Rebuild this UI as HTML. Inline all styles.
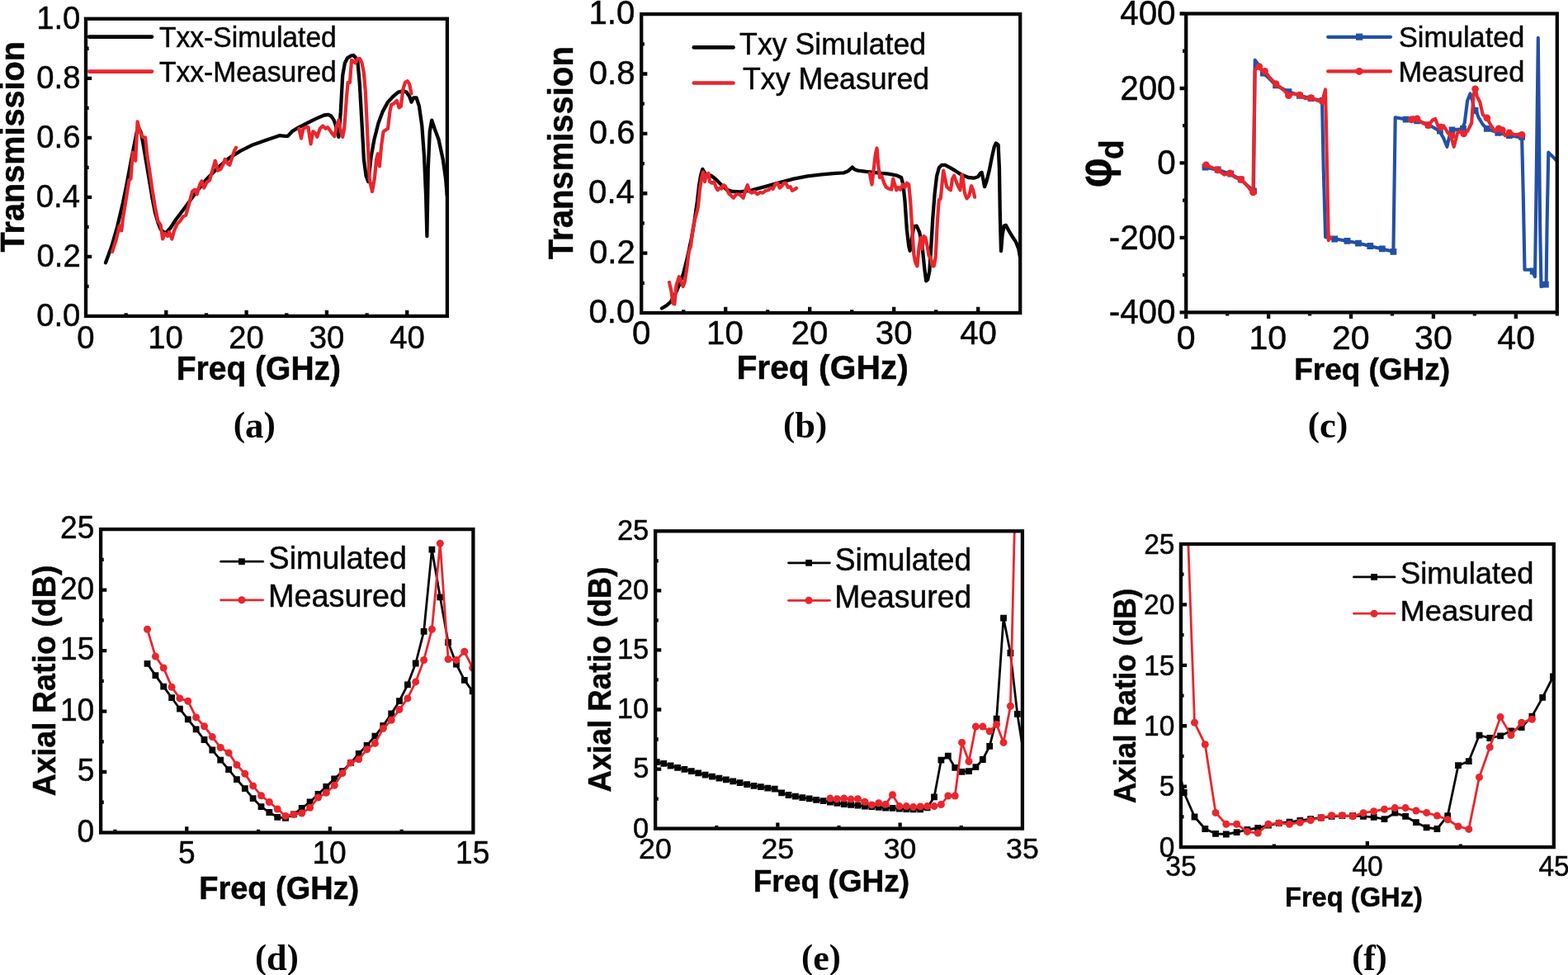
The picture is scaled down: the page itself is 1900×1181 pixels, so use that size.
<!DOCTYPE html>
<html lang="en">
<head>
<meta charset="utf-8">
<title>Transmission, phase difference and axial ratio</title>
<style>
html,body{margin:0;padding:0;background:#fff;}
body{width:1900px;height:1181px;overflow:hidden;}
svg{display:block;}
.ss{font-family:'Liberation Sans', 'DejaVu Sans', sans-serif;fill:#060606;}
.sf{font-family:'Liberation Serif', 'DejaVu Serif', serif;fill:#060606;}
.b{font-weight:bold;}
</style>
</head>
<body>
<svg width="1900" height="1181" viewBox="0 0 1900 1181">
<rect x="0" y="0" width="1900" height="1181" fill="#ffffff"/>
<clipPath id="ca"><rect x="104.00" y="22.75" width="437.90" height="360.15"/></clipPath>
<path d="M128.0 318.3L135.4 298.0L142.2 274.3L149.0 245.5L154.1 220.1L159.2 193.0L163.2 172.7L165.9 159.2L168.3 155.1L171.0 160.8L174.4 179.5L177.8 199.8L181.2 220.1L184.6 240.4L187.9 257.4L191.3 269.2L194.7 277.7L198.1 281.1L201.5 281.7L206.6 276.0L213.3 265.8L223.5 252.3L237.0 233.7L250.6 216.7L264.1 203.2L277.7 191.3L291.2 182.9L304.8 176.1L321.7 170.0L338.6 164.2L345.4 164.9L348.8 164.9L353.9 159.2L362.3 154.1L372.5 149.0L382.6 143.9L392.8 139.5L397.9 138.8L401.3 140.5L404.7 145.6L408.0 155.8L410.4 165.9L412.8 135.4L415.2 91.4L417.9 76.2L420.9 70.4L425.0 67.7L428.4 67.0L430.7 69.4L433.4 74.5L435.8 101.6L438.5 149.0L440.9 193.0L443.6 213.3L446.3 220.1L449.7 189.6L453.4 169.3L458.5 149.0L463.6 135.4L470.0 123.6L476.4 116.8L482.5 111.7L489.3 110.1L492.7 111.7L496.1 116.8L498.5 123.6L501.2 118.5L504.6 118.5L507.9 128.7L511.3 152.4L514.0 189.6L516.1 237.0L517.4 286.1L518.8 203.2L520.8 159.2L523.2 145.6L526.6 155.8L531.6 169.3L536.7 193.0L540.1 216.7L541.8 237.0" fill="none" stroke="#060606" stroke-width="4.3" stroke-linejoin="round" stroke-linecap="round" clip-path="url(#ca)"/>
<path d="M136.1 304.8L140.5 291.2L144.9 273.6L147.3 279.4L149.0 264.1L152.4 243.8L156.4 218.4L158.5 216.7L160.8 184.6L164.2 194.7L166.6 147.3L169.3 159.2L172.7 165.9L176.1 166.6L178.5 189.6L181.2 206.6L184.6 230.3L187.9 250.6L191.3 267.5L194.7 272.6L197.1 289.5L199.8 282.8L203.2 286.1L204.9 281.1L208.3 289.5L211.6 277.7L215.0 270.9L218.4 267.5L221.8 262.4L225.2 260.7L228.6 248.9L233.0 232.0L236.0 229.6L238.7 235.3L242.1 223.5L244.5 219.4L247.2 227.6L250.6 220.8L254.0 218.4L257.4 206.6L260.7 194.7L264.1 206.6L267.5 204.9L270.9 198.1L272.6 193.0L276.0 198.1L278.3 199.8L281.1 191.3L283.8 182.9L286.1 178.8" fill="none" stroke="#e9262d" stroke-width="4.2" stroke-linejoin="round" stroke-linecap="round" clip-path="url(#ca)"/>
<path d="M362.3 155.8L365.0 167.6L367.4 155.8L370.8 154.1L373.5 154.1L376.6 174.4L379.3 159.2L382.6 161.9L384.3 165.9L387.7 155.8L391.1 152.4L394.5 155.8L396.9 154.1L399.6 157.5L403.0 162.5L405.3 165.2L408.0 152.4L410.4 145.6L413.1 159.2L415.2 165.9L417.2 155.8L419.9 118.5L421.6 99.9L424.0 99.9L426.0 72.8L428.4 74.5L430.7 76.2L433.4 71.1L436.1 71.1L438.5 76.2L440.9 88.0L442.9 111.7L445.3 162.5L447.7 216.7L451.0 232.0L453.8 216.7L456.1 193.0L457.8 186.2L459.9 201.5L462.2 176.1L464.6 159.2L467.3 157.5L470.0 155.8L472.4 135.4L474.1 127.0L477.5 125.3L480.8 121.9L483.6 130.4L485.9 128.7L488.3 108.4L491.0 99.9L493.7 98.2L496.1 101.6L498.5 113.4" fill="none" stroke="#e9262d" stroke-width="4.2" stroke-linejoin="round" stroke-linecap="round" clip-path="url(#ca)"/>
<rect x="104.00" y="22.75" width="437.90" height="360.15" fill="none" stroke="#060606" stroke-width="4.3"/>
<path d="M201.31 381.05V375.75M298.62 381.05V375.75M395.93 381.05V375.75M493.24 381.05V375.75M152.66 381.05V379.25M249.97 381.05V379.25M347.28 381.05V379.25M444.59 381.05V379.25" stroke="#060606" stroke-width="4.3" fill="none"/>
<path d="M105.85 310.87H111.15M105.85 238.84H111.15M105.85 166.81H111.15M105.85 94.78H111.15M105.85 346.88H107.65M105.85 274.86H107.65M105.85 202.82H107.65M105.85 130.80H107.65M105.85 58.76H107.65" stroke="#060606" stroke-width="4.3" fill="none"/>
<text class="ss" transform="translate(93.36 422.20) scale(0.9650 1)" font-size="39.6" stroke="#060606" stroke-width="0.5">0</text>
<text class="ss" transform="translate(179.34 422.20) scale(0.9650 1)" font-size="39.6" stroke="#060606" stroke-width="0.5">10</text>
<text class="ss" transform="translate(277.16 422.20) scale(0.9650 1)" font-size="39.6" stroke="#060606" stroke-width="0.5">20</text>
<text class="ss" transform="translate(374.66 422.20) scale(0.9650 1)" font-size="39.6" stroke="#060606" stroke-width="0.5">30</text>
<text class="ss" transform="translate(472.29 422.20) scale(0.9650 1)" font-size="39.6" stroke="#060606" stroke-width="0.5">40</text>
<text class="ss" transform="translate(44.16 395.10) scale(0.9650 1)" font-size="39.6" stroke="#060606" stroke-width="0.5">0.0</text>
<text class="ss" transform="translate(44.54 323.07) scale(0.9650 1)" font-size="39.6" stroke="#060606" stroke-width="0.5">0.2</text>
<text class="ss" transform="translate(43.78 251.04) scale(0.9650 1)" font-size="39.6" stroke="#060606" stroke-width="0.5">0.4</text>
<text class="ss" transform="translate(44.29 179.01) scale(0.9650 1)" font-size="39.6" stroke="#060606" stroke-width="0.5">0.6</text>
<text class="ss" transform="translate(44.29 106.98) scale(0.9650 1)" font-size="39.6" stroke="#060606" stroke-width="0.5">0.8</text>
<text class="ss" transform="translate(44.16 34.95) scale(0.9650 1)" font-size="39.6" stroke="#060606" stroke-width="0.5">1.0</text>
<text class="ss b" transform="translate(29.00 305.45) rotate(-90) scale(0.9585 1)" font-size="41.33" stroke="#060606" stroke-width="0.5">Transmission</text>
<text class="ss b" transform="translate(213.75 460.40) scale(0.9704 1)" font-size="40.2" stroke="#060606" stroke-width="0.5">Freq (GHz)</text>
<text class="sf b" transform="translate(282.63 529.10) scale(1.0150 1)" font-size="42.5"><tspan dy="-1.0">(</tspan><tspan dy="1.6" font-size="44.3">a</tspan><tspan dy="-1.6">)</tspan></text>
<path d="M108.0 44.6L184.0 44.6" fill="none" stroke="#060606" stroke-width="4.7" stroke-linejoin="round" stroke-linecap="round"/>
<path d="M108.0 86.6L184.0 86.6" fill="none" stroke="#e9262d" stroke-width="4.7" stroke-linejoin="round" stroke-linecap="round"/>
<text class="ss" transform="translate(192.97 56.70) scale(0.9448 1)" font-size="35.58" stroke="#060606" stroke-width="0.5">Txx-Simulated</text>
<text class="ss" transform="translate(192.97 98.60) scale(0.9448 1)" font-size="35.58" stroke="#060606" stroke-width="0.5">Txx-Measured</text>
<clipPath id="cb"><rect x="777.20" y="17.10" width="459.00" height="361.90"/></clipPath>
<path d="M801.9 373.5L807.6 370.1L812.7 365.7L817.8 357.2L822.9 345.4L827.9 331.9L833.0 311.5L838.1 287.8L841.5 267.5L844.9 243.8L847.2 223.5L849.3 211.6L851.3 204.9L853.3 208.3L856.7 212.7L861.8 212.7L866.9 216.7L873.7 223.5L880.4 229.6L887.2 232.0L897.4 232.3L910.9 230.3L927.8 225.9L944.8 221.1L961.7 216.7L978.6 213.3L995.6 211.3L1012.5 209.9L1022.6 209.3L1027.7 207.2L1031.1 204.2L1032.8 202.5L1035.5 205.2L1039.6 206.6L1049.7 207.9L1063.3 209.3L1076.8 210.6L1087.0 212.7L1092.1 215.0L1094.4 223.5L1096.5 243.8L1098.8 277.7L1101.2 298.0L1102.6 303.7L1104.6 291.2L1107.3 274.3L1110.7 273.6L1114.1 281.1L1117.5 298.0L1120.2 325.1L1122.2 340.3L1124.2 338.6L1126.3 328.5L1128.3 298.0L1130.3 264.1L1132.7 233.7L1135.1 213.3L1137.8 203.2L1141.2 199.8L1145.2 199.8L1151.3 203.2L1158.1 207.2L1164.9 211.6L1173.3 215.0L1180.1 215.7L1185.2 214.0L1187.9 209.9L1189.6 208.9L1191.3 216.7L1193.0 226.2L1195.3 220.1L1198.7 206.6L1202.1 189.6L1204.8 177.8L1206.9 173.4L1209.6 175.4L1210.9 203.2L1211.9 264.1L1213.0 304.1L1214.6 284.4L1216.7 273.6L1219.0 272.9L1222.4 279.4L1227.5 287.8L1230.9 292.9L1234.3 301.4L1236.0 311.5" fill="none" stroke="#060606" stroke-width="4.3" stroke-linejoin="round" stroke-linecap="round" clip-path="url(#cb)"/>
<path d="M811.0 342.0L813.4 352.2L815.4 367.4L817.4 368.4L819.5 345.4L822.9 335.2L825.6 342.0L827.6 347.1L829.6 342.0L832.3 325.1L834.7 304.8L837.1 298.0L839.1 281.1L841.5 267.5L843.9 259.0L845.9 250.6L847.9 230.3L849.9 216.7L852.0 208.3L854.0 220.1L856.0 211.6L858.4 209.9L860.1 220.1L862.8 221.8L865.2 220.1L867.6 226.9L869.6 230.3L872.0 227.6L874.3 228.6L876.4 224.2L878.7 225.2L881.1 230.3L883.1 234.3L885.5 236.4L888.9 239.7L892.3 235.3L895.7 235.3L898.0 237.0L900.7 239.7L903.4 230.3L905.8 224.2L908.2 232.0L910.9 233.7L914.3 232.0L917.7 235.3L921.1 233.0L924.4 233.7L927.8 230.9L931.2 230.3L933.9 227.6L936.6 228.9L939.7 222.8L942.1 221.8L944.8 227.6L947.5 225.2L949.8 221.8L952.2 221.8L954.9 226.9L957.6 226.2L960.0 230.9L962.4 229.6L965.1 227.9" fill="none" stroke="#e9262d" stroke-width="4.2" stroke-linejoin="round" stroke-linecap="round" clip-path="url(#cb)"/>
<path d="M1053.8 209.9L1056.5 223.5L1058.9 203.2L1060.9 186.2L1062.6 179.5L1064.3 199.8L1066.0 215.0L1068.4 213.3L1070.7 220.1L1073.4 226.2L1076.8 228.6L1080.2 229.6L1082.2 216.7L1084.3 223.5L1086.3 230.3L1088.7 226.9L1091.0 229.6L1093.8 223.5L1096.5 226.9L1098.8 221.8L1101.2 223.5L1103.2 243.8L1105.3 277.7L1107.3 308.1L1109.3 318.3L1111.4 322.4L1113.4 301.4L1115.4 287.8L1117.5 301.4L1119.5 286.1L1121.5 287.8L1123.6 298.0L1125.6 309.8L1127.6 311.5L1129.7 321.7L1131.7 322.4L1133.7 311.5L1135.7 270.9L1137.8 242.1L1139.8 240.4L1141.8 220.1L1143.2 206.6L1145.2 216.7L1147.3 226.2L1149.6 228.6L1152.0 230.3L1154.0 216.7L1156.1 212.7L1158.1 218.4L1160.8 225.2L1163.5 230.3L1165.5 211.6L1166.9 216.7L1168.9 233.7L1171.6 240.4L1174.3 237.0L1177.1 225.2L1179.1 230.3L1181.1 238.7" fill="none" stroke="#e9262d" stroke-width="4.2" stroke-linejoin="round" stroke-linecap="round" clip-path="url(#cb)"/>
<rect x="777.20" y="17.10" width="459.00" height="361.90" fill="none" stroke="#060606" stroke-width="4.3"/>
<path d="M879.20 377.15V371.85M981.20 377.15V371.85M1083.20 377.15V371.85M1185.20 377.15V371.85M828.20 377.15V375.35M930.20 377.15V375.35M1032.20 377.15V375.35M1134.20 377.15V375.35" stroke="#060606" stroke-width="4.3" fill="none"/>
<path d="M779.05 306.62H784.35M779.05 234.24H784.35M779.05 161.86H784.35M779.05 89.48H784.35M779.05 342.81H780.85M779.05 270.43H780.85M779.05 198.05H780.85M779.05 125.67H780.85M779.05 53.29H780.85" stroke="#060606" stroke-width="4.3" fill="none"/>
<text class="ss" transform="translate(766.02 417.35) scale(0.9970 1)" font-size="40.3" stroke="#060606" stroke-width="0.5">0</text>
<text class="ss" transform="translate(856.10 417.35) scale(0.9970 1)" font-size="40.3" stroke="#060606" stroke-width="0.5">10</text>
<text class="ss" transform="translate(958.63 417.35) scale(0.9970 1)" font-size="40.3" stroke="#060606" stroke-width="0.5">20</text>
<text class="ss" transform="translate(1060.83 417.35) scale(0.9970 1)" font-size="40.3" stroke="#060606" stroke-width="0.5">30</text>
<text class="ss" transform="translate(1163.17 417.35) scale(0.9970 1)" font-size="40.3" stroke="#060606" stroke-width="0.5">40</text>
<text class="ss" transform="translate(713.51 391.20) scale(0.9970 1)" font-size="40.3" stroke="#060606" stroke-width="0.5">0.0</text>
<text class="ss" transform="translate(713.91 318.82) scale(0.9970 1)" font-size="40.3" stroke="#060606" stroke-width="0.5">0.2</text>
<text class="ss" transform="translate(713.11 246.44) scale(0.9970 1)" font-size="40.3" stroke="#060606" stroke-width="0.5">0.4</text>
<text class="ss" transform="translate(713.64 174.06) scale(0.9970 1)" font-size="40.3" stroke="#060606" stroke-width="0.5">0.6</text>
<text class="ss" transform="translate(713.64 101.68) scale(0.9970 1)" font-size="40.3" stroke="#060606" stroke-width="0.5">0.8</text>
<text class="ss" transform="translate(713.51 29.30) scale(0.9970 1)" font-size="40.3" stroke="#060606" stroke-width="0.5">1.0</text>
<text class="ss b" transform="translate(694.20 314.15) rotate(-90) scale(0.9554 1)" font-size="41.9" stroke="#060606" stroke-width="0.5">Transmission</text>
<text class="ss b" transform="translate(892.43 458.90) scale(1.0002 1)" font-size="40.77" stroke="#060606" stroke-width="0.5">Freq (GHz)</text>
<text class="sf b" transform="translate(949.05 529.10) scale(1.0047 1)" font-size="42.5"><tspan dy="-1.0">(</tspan><tspan dy="1.6" font-size="44.3">b</tspan><tspan dy="-1.6">)</tspan></text>
<path d="M840.8 57.4L888.5 57.4" fill="none" stroke="#060606" stroke-width="4.7" stroke-linejoin="round" stroke-linecap="round"/>
<path d="M840.8 100.5L888.5 100.5" fill="none" stroke="#e9262d" stroke-width="4.7" stroke-linejoin="round" stroke-linecap="round"/>
<text class="ss" transform="translate(896.12 65.80) scale(0.9864 1)" font-size="36.16" stroke="#060606" stroke-width="0.5">Txy Simulated</text>
<text class="ss" transform="translate(900.02 108.00) scale(0.9838 1)" font-size="36.3" stroke="#060606" stroke-width="0.5">Txy Measured</text>
<clipPath id="cc"><rect x="1437.20" y="16.50" width="449.60" height="361.90"/></clipPath>
<path d="M1458.8 202.5L1476.7 205.9L1490.3 210.6L1503.8 217.4L1514.0 226.9L1519.0 230.9L1520.7 72.8L1523.4 76.2L1527.5 83.0L1530.9 88.7L1537.7 94.8L1546.1 103.3L1561.4 111.1L1574.9 115.8L1588.5 119.2L1602.0 121.9L1603.7 203.2L1606.1 287.2L1618.9 289.5L1632.5 291.9L1646.0 294.6L1659.6 298.0L1674.8 301.4L1688.4 304.8L1690.7 142.2L1703.6 144.6L1717.1 146.3L1730.7 150.7L1744.2 158.5L1749.3 167.6L1753.4 177.8L1756.1 165.9L1759.5 157.5L1771.3 156.4L1774.7 149.0L1778.1 121.9L1781.5 113.4L1784.2 121.9L1786.6 135.4L1788.3 133.8L1791.6 142.2L1796.7 150.7L1801.8 155.8L1815.3 160.8L1828.9 164.2L1844.1 166.6L1845.8 237.0L1847.5 326.8L1856.0 326.8L1860.0 335.2L1861.4 237.0L1863.8 45.7L1866.1 270.9L1867.5 347.1L1873.6 344.7L1874.6 270.9L1876.3 184.6L1881.4 189.6L1886.5 194.7" fill="none" stroke="#2350a6" stroke-width="4.1" stroke-linejoin="round" stroke-linecap="round" clip-path="url(#cc)"/>
<path d="M1456.6 198.6h7.8v7.8h-7.8zM1471.8 201.6h7.8v7.8h-7.8zM1487.4 206.7h7.8v7.8h-7.8zM1499.9 213.5h7.8v7.8h-7.8zM1515.1 227.4h7.8v7.8h-7.8zM1527.0 84.8h7.8v7.8h-7.8zM1542.2 99.4h7.8v7.8h-7.8zM1557.5 107.2h7.8v7.8h-7.8zM1571.0 111.9h7.8v7.8h-7.8zM1584.6 115.3h7.8v7.8h-7.8zM1598.8 118.0h7.8v7.8h-7.8zM1613.3 285.6h7.8v7.8h-7.8zM1628.6 288.0h7.8v7.8h-7.8zM1642.1 290.7h7.8v7.8h-7.8zM1656.4 294.1h7.8v7.8h-7.8zM1670.9 297.5h7.8v7.8h-7.8zM1684.5 300.9h7.8v7.8h-7.8zM1699.7 140.7h7.8v7.8h-7.8zM1713.2 142.4h7.8v7.8h-7.8zM1726.8 147.5h7.8v7.8h-7.8zM1741.0 154.6h7.8v7.8h-7.8zM1755.6 153.6h7.8v7.8h-7.8zM1769.1 151.9h7.8v7.8h-7.8zM1783.7 129.9h7.8v7.8h-7.8zM1797.9 151.9h7.8v7.8h-7.8zM1811.4 156.9h7.8v7.8h-7.8zM1825.0 160.3h7.8v7.8h-7.8zM1840.2 162.0h7.8v7.8h-7.8zM1853.8 324.6h7.8v7.8h-7.8zM1869.0 340.8h7.8v7.8h-7.8z" fill="#2350a6" clip-path="url(#cc)"/>
<path d="M1461.5 199.8L1476.7 206.6L1483.5 211.6L1490.3 209.9L1497.0 215.0L1503.8 217.4L1512.3 226.2L1518.4 233.7L1520.7 84.7L1525.8 79.6L1529.2 86.3L1532.6 86.3L1537.7 93.1L1546.1 101.6L1554.6 108.4L1561.4 115.1L1568.1 113.4L1574.9 115.1L1581.7 119.2L1588.5 118.5L1595.2 121.2L1602.0 123.6L1606.1 108.4L1608.1 203.2L1609.8 291.2L1612.2 287.2" fill="none" stroke="#e9262d" stroke-width="4.1" stroke-linejoin="round" stroke-linecap="round" clip-path="url(#cc)"/>
<path d="M1708.7 145.6L1712.1 142.2L1717.1 143.9L1723.9 149.0L1730.7 151.7L1735.8 145.6L1739.2 143.9L1742.5 152.4L1745.9 154.1L1749.3 152.4L1754.4 160.8L1757.8 164.2L1761.8 177.8L1766.2 160.8L1769.6 159.2L1773.7 161.9L1778.1 159.2L1783.2 149.0L1785.5 115.1L1787.6 107.7L1789.9 116.8L1793.3 123.6L1796.7 138.8L1801.8 142.9L1806.9 152.4L1812.0 159.2L1816.0 155.8L1820.4 157.5L1823.8 164.2L1828.9 160.8L1835.7 163.2L1840.7 162.5L1845.8 163.6" fill="none" stroke="#e9262d" stroke-width="4.1" stroke-linejoin="round" stroke-linecap="round" clip-path="url(#cc)"/>
<g fill="#e9262d" clip-path="url(#cc)"><circle cx="1461.5" cy="199.8" r="4.3"/><circle cx="1475.7" cy="205.9" r="4.3"/><circle cx="1490.3" cy="209.9" r="4.3"/><circle cx="1503.8" cy="217.4" r="4.3"/><circle cx="1518.4" cy="233.0" r="4.3"/><circle cx="1525.8" cy="80.6" r="4.3"/><circle cx="1532.6" cy="86.3" r="4.3"/><circle cx="1546.1" cy="101.6" r="4.3"/><circle cx="1561.4" cy="115.8" r="4.3"/><circle cx="1574.9" cy="115.1" r="4.3"/><circle cx="1588.5" cy="118.5" r="4.3"/><circle cx="1602.7" cy="122.6" r="4.3"/><circle cx="1710.4" cy="144.9" r="4.3"/><circle cx="1717.1" cy="143.9" r="4.3"/><circle cx="1730.7" cy="151.7" r="4.3"/><circle cx="1745.9" cy="154.1" r="4.3"/><circle cx="1759.5" cy="164.2" r="4.3"/><circle cx="1773.7" cy="161.9" r="4.3"/><circle cx="1787.6" cy="107.7" r="4.3"/><circle cx="1801.8" cy="142.9" r="4.3"/><circle cx="1816.0" cy="155.8" r="4.3"/><circle cx="1820.4" cy="157.5" r="4.3"/><circle cx="1828.9" cy="160.8" r="4.3"/><circle cx="1844.1" cy="163.2" r="4.3"/></g>
<rect x="1437.20" y="16.50" width="449.60" height="361.90" fill="none" stroke="#060606" stroke-width="4.3"/>
<path d="M1437.20 380.25V386.05M1537.11 380.25V386.05M1637.02 380.25V386.05M1736.93 380.25V386.05M1836.84 380.25V386.05M1487.16 380.25V382.55M1587.07 380.25V382.55M1686.98 380.25V382.55M1786.89 380.25V382.55M1886.80 380.25V382.55" stroke="#060606" stroke-width="4.3" fill="none"/>
<path d="M1435.35 378.40H1429.55M1435.35 287.92H1429.55M1435.35 197.45H1429.55M1435.35 106.98H1429.55M1435.35 16.50H1429.55M1435.35 333.16H1433.05M1435.35 242.69H1433.05M1435.35 152.21H1433.05M1435.35 61.74H1433.05" stroke="#060606" stroke-width="4.3" fill="none"/>
<text class="ss" transform="translate(1425.76 422.85) scale(0.9900 1)" font-size="41.5" stroke="#060606" stroke-width="0.5">0</text>
<text class="ss" transform="translate(1513.49 422.85) scale(0.9900 1)" font-size="41.5" stroke="#060606" stroke-width="0.5">10</text>
<text class="ss" transform="translate(1613.95 422.85) scale(0.9900 1)" font-size="41.5" stroke="#060606" stroke-width="0.5">20</text>
<text class="ss" transform="translate(1714.06 422.85) scale(0.9900 1)" font-size="41.5" stroke="#060606" stroke-width="0.5">30</text>
<text class="ss" transform="translate(1814.32 422.85) scale(0.9900 1)" font-size="41.5" stroke="#060606" stroke-width="0.5">40</text>
<text class="ss" transform="translate(1343.69 392.20) scale(0.9400 1)" font-size="43.0" stroke="#060606" stroke-width="0.5">-400</text>
<text class="ss" transform="translate(1343.69 301.72) scale(0.9400 1)" font-size="43.0" stroke="#060606" stroke-width="0.5">-200</text>
<text class="ss" transform="translate(1402.17 211.25) scale(0.9400 1)" font-size="43.0" stroke="#060606" stroke-width="0.5">0</text>
<text class="ss" transform="translate(1357.17 120.78) scale(0.9400 1)" font-size="43.0" stroke="#060606" stroke-width="0.5">200</text>
<text class="ss" transform="translate(1357.17 30.30) scale(0.9400 1)" font-size="43.0" stroke="#060606" stroke-width="0.5">400</text>
<text class="ss b" transform="translate(1346.20 227.30) rotate(-90) scale(0.8830 1)" font-size="56.9" stroke="#060606" stroke-width="0.5">&#966;</text>
<text class="ss b" transform="translate(1360.60 193.00) rotate(-90) scale(0.9680 1)" font-size="40.0" stroke="#060606" stroke-width="0.5">d</text>
<text class="ss b" transform="translate(1568.19 460.10) scale(1.0200 1)" font-size="36.24" stroke="#060606" stroke-width="0.5">Freq (GHz)</text>
<text class="sf b" transform="translate(1584.74 529.10) scale(1.0092 1)" font-size="42.5"><tspan dy="-1.0">(</tspan><tspan dy="1.6" font-size="44.3">c</tspan><tspan dy="-1.6">)</tspan></text>
<path d="M1609.2 44.8L1685.0 44.8" fill="none" stroke="#2350a6" stroke-width="4.2" stroke-linejoin="round" stroke-linecap="round"/>
<path d="M1643.0 40.6h8.2v8.2h-8.2z" fill="#2350a6"/>
<path d="M1609.2 86.4L1685.0 86.4" fill="none" stroke="#e9262d" stroke-width="4.2" stroke-linejoin="round" stroke-linecap="round"/>
<g fill="#e9262d"><circle cx="1647.1" cy="86.4" r="4.5"/></g>
<text class="ss" transform="translate(1694.95 56.50) scale(0.9862 1)" font-size="34.75" stroke="#060606" stroke-width="0.5">Simulated</text>
<text class="ss" transform="translate(1694.49 98.80) scale(0.9912 1)" font-size="34.68" stroke="#060606" stroke-width="0.5">Measured</text>
<clipPath id="cd"><rect x="120.60" y="639.60" width="454.30" height="370.40"/></clipPath>
<path d="M178.5 803.9L188.4 818.1L198.2 831.6L208.1 845.2L217.9 858.7L227.8 871.3L237.6 883.4L247.5 896.0L257.3 908.5L267.2 920.7L277.1 932.2L286.9 944.1L296.8 955.2L306.6 967.1L316.5 977.2L326.3 984.0L336.2 989.8L346.0 990.8L355.9 986.4L365.7 978.9L375.6 971.5L385.5 962.0L395.3 952.9L405.2 943.4L415.0 934.2L424.9 924.1L434.7 912.9L444.6 902.8L454.4 891.6L464.3 879.0L474.2 864.5L484.0 849.2L493.9 829.3L503.7 803.5L513.6 764.9L523.4 665.7L533.3 723.3L543.1 778.1L553.0 804.6L562.8 823.9L572.7 837.4" fill="none" stroke="#060606" stroke-width="2.8" stroke-linejoin="round" stroke-linecap="round" clip-path="url(#cd)"/>
<path d="M174.6 800.0h7.8v7.8h-7.8zM184.5 814.2h7.8v7.8h-7.8zM194.3 827.7h7.8v7.8h-7.8zM204.2 841.3h7.8v7.8h-7.8zM214.0 854.8h7.8v7.8h-7.8zM223.9 867.4h7.8v7.8h-7.8zM233.7 879.5h7.8v7.8h-7.8zM243.6 892.1h7.8v7.8h-7.8zM253.4 904.6h7.8v7.8h-7.8zM263.3 916.8h7.8v7.8h-7.8zM273.2 928.3h7.8v7.8h-7.8zM283.0 940.2h7.8v7.8h-7.8zM292.9 951.3h7.8v7.8h-7.8zM302.7 963.2h7.8v7.8h-7.8zM312.6 973.3h7.8v7.8h-7.8zM322.4 980.1h7.8v7.8h-7.8zM332.3 985.9h7.8v7.8h-7.8zM342.1 986.9h7.8v7.8h-7.8zM352.0 982.5h7.8v7.8h-7.8zM361.8 975.0h7.8v7.8h-7.8zM371.7 967.6h7.8v7.8h-7.8zM381.6 958.1h7.8v7.8h-7.8zM391.4 949.0h7.8v7.8h-7.8zM401.3 939.5h7.8v7.8h-7.8zM411.1 930.3h7.8v7.8h-7.8zM421.0 920.2h7.8v7.8h-7.8zM430.8 909.0h7.8v7.8h-7.8zM440.7 898.9h7.8v7.8h-7.8zM450.5 887.7h7.8v7.8h-7.8zM460.4 875.1h7.8v7.8h-7.8zM470.3 860.6h7.8v7.8h-7.8zM480.1 845.3h7.8v7.8h-7.8zM490.0 825.4h7.8v7.8h-7.8zM499.8 799.6h7.8v7.8h-7.8zM509.7 761.0h7.8v7.8h-7.8zM519.5 661.8h7.8v7.8h-7.8zM529.4 719.4h7.8v7.8h-7.8zM539.2 774.2h7.8v7.8h-7.8zM549.1 800.7h7.8v7.8h-7.8zM558.9 820.0h7.8v7.8h-7.8zM568.8 833.5h7.8v7.8h-7.8z" fill="#060606" clip-path="url(#cd)"/>
<path d="M178.5 762.2L188.4 795.1L198.2 809.0L208.1 832.3L217.9 845.9L227.8 849.2L237.6 868.9L247.5 879.7L257.3 892.6L267.2 905.5L277.1 911.9L286.9 926.5L296.8 937.3L306.6 951.9L316.5 963.7L326.3 971.5L336.2 980.0L346.0 988.4L355.9 986.4L365.7 985.0L375.6 978.3L385.5 966.1L395.3 960.3L405.2 951.2L415.0 936.6L424.9 924.1L434.7 919.7L444.6 907.8L454.4 900.4L464.3 882.4L474.2 872.3L484.0 859.4L493.9 845.9L503.7 825.9L513.6 799.5L523.4 762.2L533.3 658.3L543.1 798.5L553.0 799.5L562.8 789.3L572.7 809.0" fill="none" stroke="#e9262d" stroke-width="2.8" stroke-linejoin="round" stroke-linecap="round" clip-path="url(#cd)"/>
<g fill="#e9262d" clip-path="url(#cd)"><circle cx="178.5" cy="762.2" r="4.5"/><circle cx="188.4" cy="795.1" r="4.5"/><circle cx="198.2" cy="809.0" r="4.5"/><circle cx="208.1" cy="832.3" r="4.5"/><circle cx="217.9" cy="845.9" r="4.5"/><circle cx="227.8" cy="849.2" r="4.5"/><circle cx="237.6" cy="868.9" r="4.5"/><circle cx="247.5" cy="879.7" r="4.5"/><circle cx="257.3" cy="892.6" r="4.5"/><circle cx="267.2" cy="905.5" r="4.5"/><circle cx="277.1" cy="911.9" r="4.5"/><circle cx="286.9" cy="926.5" r="4.5"/><circle cx="296.8" cy="937.3" r="4.5"/><circle cx="306.6" cy="951.9" r="4.5"/><circle cx="316.5" cy="963.7" r="4.5"/><circle cx="326.3" cy="971.5" r="4.5"/><circle cx="336.2" cy="980.0" r="4.5"/><circle cx="346.0" cy="988.4" r="4.5"/><circle cx="355.9" cy="986.4" r="4.5"/><circle cx="365.7" cy="985.0" r="4.5"/><circle cx="375.6" cy="978.3" r="4.5"/><circle cx="385.5" cy="966.1" r="4.5"/><circle cx="395.3" cy="960.3" r="4.5"/><circle cx="405.2" cy="951.2" r="4.5"/><circle cx="415.0" cy="936.6" r="4.5"/><circle cx="424.9" cy="924.1" r="4.5"/><circle cx="434.7" cy="919.7" r="4.5"/><circle cx="444.6" cy="907.8" r="4.5"/><circle cx="454.4" cy="900.4" r="4.5"/><circle cx="464.3" cy="882.4" r="4.5"/><circle cx="474.2" cy="872.3" r="4.5"/><circle cx="484.0" cy="859.4" r="4.5"/><circle cx="493.9" cy="845.9" r="4.5"/><circle cx="503.7" cy="825.9" r="4.5"/><circle cx="513.6" cy="799.5" r="4.5"/><circle cx="523.4" cy="762.2" r="4.5"/><circle cx="533.3" cy="658.3" r="4.5"/><circle cx="543.1" cy="798.5" r="4.5"/><circle cx="553.0" cy="799.5" r="4.5"/><circle cx="562.8" cy="789.3" r="4.5"/><circle cx="572.7" cy="809.0" r="4.5"/></g>
<rect x="122.10" y="641.10" width="451.30" height="367.40" fill="none" stroke="#060606" stroke-width="4.3"/>
<path d="M226.25 1006.65V1001.35M399.82 1006.65V1001.35M139.46 1006.65V1004.85M313.03 1006.65V1004.85M486.61 1006.65V1004.85" stroke="#060606" stroke-width="4.3" fill="none"/>
<path d="M123.95 935.02H129.25M123.95 861.54H129.25M123.95 788.06H129.25M123.95 714.58H129.25M123.95 971.76H125.75M123.95 898.28H125.75M123.95 824.80H125.75M123.95 751.32H125.75M123.95 677.84H125.75" stroke="#060606" stroke-width="4.3" fill="none"/>
<text class="ss" transform="translate(215.97 1046.15) scale(0.9550 1)" font-size="38.9" stroke="#060606" stroke-width="0.5">5</text>
<text class="ss" transform="translate(378.46 1046.15) scale(0.9550 1)" font-size="38.9" stroke="#060606" stroke-width="0.5">10</text>
<text class="ss" transform="translate(552.10 1046.15) scale(0.9550 1)" font-size="38.9" stroke="#060606" stroke-width="0.5">15</text>
<text class="ss" transform="translate(93.56 1019.65) scale(0.9550 1)" font-size="38.9" stroke="#060606" stroke-width="0.5">0</text>
<text class="ss" transform="translate(93.68 946.17) scale(0.9550 1)" font-size="38.9" stroke="#060606" stroke-width="0.5">5</text>
<text class="ss" transform="translate(72.88 872.69) scale(0.9550 1)" font-size="38.9" stroke="#060606" stroke-width="0.5">10</text>
<text class="ss" transform="translate(73.00 799.21) scale(0.9550 1)" font-size="38.9" stroke="#060606" stroke-width="0.5">15</text>
<text class="ss" transform="translate(72.88 725.73) scale(0.9550 1)" font-size="38.9" stroke="#060606" stroke-width="0.5">20</text>
<text class="ss" transform="translate(73.00 652.25) scale(0.9550 1)" font-size="38.9" stroke="#060606" stroke-width="0.5">25</text>
<text class="ss b" transform="translate(67.20 964.25) rotate(-90) scale(0.9719 1)" font-size="38.65" stroke="#060606" stroke-width="0.5">Axial Ratio (dB)</text>
<text class="ss b" transform="translate(241.22 1088.80) scale(0.9934 1)" font-size="38.22" stroke="#060606" stroke-width="0.5">Freq (GHz)</text>
<text class="sf b" transform="translate(308.96 1173.90) scale(0.9986 1)" font-size="42.5"><tspan dy="-1.0">(</tspan><tspan dy="1.6" font-size="44.3">d</tspan><tspan dy="-1.6">)</tspan></text>
<path d="M267.6 680.2L318.6 680.2" fill="none" stroke="#060606" stroke-width="2.8" stroke-linejoin="round" stroke-linecap="round"/>
<path d="M289.0 676.3h7.8v7.8h-7.8z" fill="#060606"/>
<path d="M267.6 726.8L318.6 726.8" fill="none" stroke="#e9262d" stroke-width="2.8" stroke-linejoin="round" stroke-linecap="round"/>
<g fill="#e9262d"><circle cx="292.9" cy="726.8" r="4.5"/></g>
<text class="ss" transform="translate(325.59 688.90) scale(0.9774 1)" font-size="38.53" stroke="#060606" stroke-width="0.5">Simulated</text>
<text class="ss" transform="translate(325.00 735.20) scale(0.9631 1)" font-size="39.24" stroke="#060606" stroke-width="0.5">Measured</text>
<clipPath id="ce"><rect x="792.60" y="641.80" width="447.80" height="363.30"/></clipPath>
<path d="M795.8 923.1L804.2 924.8L812.6 927.5L821.0 929.8L829.4 931.9L837.8 934.2L846.2 936.3L854.6 938.6L863.0 940.7L871.4 942.7L879.8 944.4L888.2 946.4L896.6 948.1L905.1 950.2L913.5 951.9L921.9 953.2L930.3 954.6L938.7 955.6L947.1 960.3L955.5 963.0L963.9 964.7L972.3 966.1L980.7 967.4L989.1 968.8L997.5 970.1L1005.9 971.5L1014.3 972.8L1022.7 974.2L1031.1 974.9L1039.5 975.6L1047.9 976.6L1056.3 977.2L1064.7 977.9L1073.1 978.6L1081.5 978.9L1089.9 979.6L1098.3 980.0L1106.7 980.3L1115.2 980.3L1123.6 978.3L1132.0 965.4L1140.4 920.7L1148.8 915.6L1157.2 929.8L1165.6 934.9L1174.0 934.2L1182.4 929.2L1190.8 920.0L1199.2 903.8L1207.6 870.6L1216.0 748.7L1224.4 791.0L1232.8 864.8L1241.2 918.0L1249.6 965.4" fill="none" stroke="#060606" stroke-width="2.8" stroke-linejoin="round" stroke-linecap="round" clip-path="url(#ce)"/>
<path d="M791.9 919.2h7.8v7.8h-7.8zM800.3 920.9h7.8v7.8h-7.8zM808.7 923.6h7.8v7.8h-7.8zM817.1 925.9h7.8v7.8h-7.8zM825.5 928.0h7.8v7.8h-7.8zM833.9 930.3h7.8v7.8h-7.8zM842.3 932.4h7.8v7.8h-7.8zM850.7 934.7h7.8v7.8h-7.8zM859.1 936.8h7.8v7.8h-7.8zM867.5 938.8h7.8v7.8h-7.8zM875.9 940.5h7.8v7.8h-7.8zM884.3 942.5h7.8v7.8h-7.8zM892.7 944.2h7.8v7.8h-7.8zM901.2 946.3h7.8v7.8h-7.8zM909.6 948.0h7.8v7.8h-7.8zM918.0 949.3h7.8v7.8h-7.8zM926.4 950.7h7.8v7.8h-7.8zM934.8 951.7h7.8v7.8h-7.8zM943.2 956.4h7.8v7.8h-7.8zM951.6 959.1h7.8v7.8h-7.8zM960.0 960.8h7.8v7.8h-7.8zM968.4 962.2h7.8v7.8h-7.8zM976.8 963.5h7.8v7.8h-7.8zM985.2 964.9h7.8v7.8h-7.8zM993.6 966.2h7.8v7.8h-7.8zM1002.0 967.6h7.8v7.8h-7.8zM1010.4 968.9h7.8v7.8h-7.8zM1018.8 970.3h7.8v7.8h-7.8zM1027.2 971.0h7.8v7.8h-7.8zM1035.6 971.7h7.8v7.8h-7.8zM1044.0 972.7h7.8v7.8h-7.8zM1052.4 973.3h7.8v7.8h-7.8zM1060.8 974.0h7.8v7.8h-7.8zM1069.2 974.7h7.8v7.8h-7.8zM1077.6 975.0h7.8v7.8h-7.8zM1086.0 975.7h7.8v7.8h-7.8zM1094.4 976.1h7.8v7.8h-7.8zM1102.8 976.4h7.8v7.8h-7.8zM1111.3 976.4h7.8v7.8h-7.8zM1119.7 974.4h7.8v7.8h-7.8zM1128.1 961.5h7.8v7.8h-7.8zM1136.5 916.8h7.8v7.8h-7.8zM1144.9 911.7h7.8v7.8h-7.8zM1153.3 925.9h7.8v7.8h-7.8zM1161.7 931.0h7.8v7.8h-7.8zM1170.1 930.3h7.8v7.8h-7.8zM1178.5 925.3h7.8v7.8h-7.8zM1186.9 916.1h7.8v7.8h-7.8zM1195.3 899.9h7.8v7.8h-7.8zM1203.7 866.7h7.8v7.8h-7.8zM1212.1 744.8h7.8v7.8h-7.8zM1220.5 787.1h7.8v7.8h-7.8zM1228.9 860.9h7.8v7.8h-7.8zM1237.3 914.1h7.8v7.8h-7.8zM1245.7 961.5h7.8v7.8h-7.8z" fill="#060606" clip-path="url(#ce)"/>
<path d="M1005.9 967.1L1014.3 967.8L1022.7 967.1L1031.1 968.1L1039.5 967.8L1047.9 971.2L1056.3 974.9L1064.7 972.8L1073.1 974.2L1081.5 962.7L1089.9 976.6L1098.3 976.6L1106.7 977.6L1115.2 976.9L1123.6 976.6L1132.0 976.6L1140.4 974.5L1148.8 964.0L1157.2 964.0L1165.6 899.4L1174.0 922.4L1182.4 880.1L1190.8 880.1L1199.2 885.8L1207.6 877.4L1216.0 899.4L1224.4 855.3L1229.8 620.0" fill="none" stroke="#e9262d" stroke-width="2.8" stroke-linejoin="round" stroke-linecap="round" clip-path="url(#ce)"/>
<g fill="#e9262d" clip-path="url(#ce)"><circle cx="1005.9" cy="967.1" r="4.5"/><circle cx="1014.3" cy="967.8" r="4.5"/><circle cx="1022.7" cy="967.1" r="4.5"/><circle cx="1031.1" cy="968.1" r="4.5"/><circle cx="1039.5" cy="967.8" r="4.5"/><circle cx="1047.9" cy="971.2" r="4.5"/><circle cx="1056.3" cy="974.9" r="4.5"/><circle cx="1064.7" cy="972.8" r="4.5"/><circle cx="1073.1" cy="974.2" r="4.5"/><circle cx="1081.5" cy="962.7" r="4.5"/><circle cx="1089.9" cy="976.6" r="4.5"/><circle cx="1098.3" cy="976.6" r="4.5"/><circle cx="1106.7" cy="977.6" r="4.5"/><circle cx="1115.2" cy="976.9" r="4.5"/><circle cx="1123.6" cy="976.6" r="4.5"/><circle cx="1132.0" cy="976.6" r="4.5"/><circle cx="1140.4" cy="974.5" r="4.5"/><circle cx="1148.8" cy="964.0" r="4.5"/><circle cx="1157.2" cy="964.0" r="4.5"/><circle cx="1165.6" cy="899.4" r="4.5"/><circle cx="1174.0" cy="922.4" r="4.5"/><circle cx="1182.4" cy="880.1" r="4.5"/><circle cx="1190.8" cy="880.1" r="4.5"/><circle cx="1199.2" cy="885.8" r="4.5"/><circle cx="1207.6" cy="877.4" r="4.5"/><circle cx="1216.0" cy="899.4" r="4.5"/><circle cx="1224.4" cy="855.3" r="4.5"/><circle cx="1229.8" cy="620.0" r="4.5"/></g>
<rect x="794.10" y="643.30" width="444.80" height="360.30" fill="none" stroke="#060606" stroke-width="4.3"/>
<path d="M942.37 1001.75V996.45M1090.63 1001.75V996.45M868.23 1001.75V999.95M1016.50 1001.75V999.95M1164.77 1001.75V999.95" stroke="#060606" stroke-width="4.3" fill="none"/>
<path d="M795.95 931.54H801.25M795.95 859.48H801.25M795.95 787.42H801.25M795.95 715.36H801.25M795.95 967.57H797.75M795.95 895.51H797.75M795.95 823.45H797.75M795.95 751.39H797.75M795.95 679.33H797.75" stroke="#060606" stroke-width="4.3" fill="none"/>
<text class="ss" transform="translate(774.08 1039.60) scale(0.9900 1)" font-size="36.0" stroke="#060606" stroke-width="0.5">20</text>
<text class="ss" transform="translate(922.41 1039.60) scale(0.9900 1)" font-size="36.0" stroke="#060606" stroke-width="0.5">25</text>
<text class="ss" transform="translate(1070.79 1039.60) scale(0.9900 1)" font-size="36.0" stroke="#060606" stroke-width="0.5">30</text>
<text class="ss" transform="translate(1219.12 1039.60) scale(0.9900 1)" font-size="36.0" stroke="#060606" stroke-width="0.5">35</text>
<text class="ss" transform="translate(767.02 1014.50) scale(0.9750 1)" font-size="35.4" stroke="#060606" stroke-width="0.5">0</text>
<text class="ss" transform="translate(767.13 942.44) scale(0.9750 1)" font-size="35.4" stroke="#060606" stroke-width="0.5">5</text>
<text class="ss" transform="translate(747.80 870.38) scale(0.9750 1)" font-size="35.4" stroke="#060606" stroke-width="0.5">10</text>
<text class="ss" transform="translate(747.92 798.32) scale(0.9750 1)" font-size="35.4" stroke="#060606" stroke-width="0.5">15</text>
<text class="ss" transform="translate(747.80 726.26) scale(0.9750 1)" font-size="35.4" stroke="#060606" stroke-width="0.5">20</text>
<text class="ss" transform="translate(747.92 654.20) scale(0.9750 1)" font-size="35.4" stroke="#060606" stroke-width="0.5">25</text>
<text class="ss b" transform="translate(740.00 959.53) rotate(-90) scale(0.9494 1)" font-size="38.65" stroke="#060606" stroke-width="0.5">Axial Ratio (dB)</text>
<text class="ss b" transform="translate(912.68 1079.90) scale(0.9999 1)" font-size="37.09" stroke="#060606" stroke-width="0.5">Freq (GHz)</text>
<text class="sf b" transform="translate(971.06 1173.90) scale(0.9980 1)" font-size="42.5"><tspan dy="-1.0">(</tspan><tspan dy="1.6" font-size="44.3">e</tspan><tspan dy="-1.6">)</tspan></text>
<path d="M955.5 681.8L1005.4 681.8" fill="none" stroke="#060606" stroke-width="2.8" stroke-linejoin="round" stroke-linecap="round"/>
<path d="M976.2 677.9h7.8v7.8h-7.8z" fill="#060606"/>
<path d="M955.5 727.3L1005.4 727.3" fill="none" stroke="#e9262d" stroke-width="2.8" stroke-linejoin="round" stroke-linecap="round"/>
<g fill="#e9262d"><circle cx="980.1" cy="727.3" r="4.5"/></g>
<text class="ss" transform="translate(1011.81 690.60) scale(0.9654 1)" font-size="38.53" stroke="#060606" stroke-width="0.5">Simulated</text>
<text class="ss" transform="translate(1011.24 736.10) scale(0.9797 1)" font-size="38.1" stroke="#060606" stroke-width="0.5">Measured</text>
<clipPath id="cf"><rect x="1429.40" y="657.50" width="454.90" height="370.10"/></clipPath>
<path d="M1421.9 900.7L1434.7 960.0L1447.5 989.5L1460.3 1004.0L1473.0 1009.8L1485.8 1010.5L1498.6 1008.1L1511.4 1005.0L1524.2 1003.0L1536.9 999.6L1549.7 997.2L1562.5 995.6L1575.3 993.9L1588.1 992.2L1600.8 990.5L1613.6 988.8L1626.4 988.1L1639.2 988.1L1652.0 988.8L1664.7 989.8L1677.5 992.2L1690.3 984.7L1703.1 988.8L1715.9 996.2L1728.6 1002.3L1741.4 1004.0L1754.2 988.1L1767.0 927.2L1779.8 922.1L1792.5 890.6L1805.3 894.0L1818.1 891.3L1830.9 885.5L1843.7 881.1L1856.4 867.6L1869.2 844.9L1882.0 819.5" fill="none" stroke="#060606" stroke-width="2.8" stroke-linejoin="round" stroke-linecap="round" clip-path="url(#cf)"/>
<path d="M1418.0 896.8h7.8v7.8h-7.8zM1430.8 956.1h7.8v7.8h-7.8zM1443.6 985.6h7.8v7.8h-7.8zM1456.4 1000.1h7.8v7.8h-7.8zM1469.1 1005.9h7.8v7.8h-7.8zM1481.9 1006.6h7.8v7.8h-7.8zM1494.7 1004.2h7.8v7.8h-7.8zM1507.5 1001.1h7.8v7.8h-7.8zM1520.3 999.1h7.8v7.8h-7.8zM1533.0 995.7h7.8v7.8h-7.8zM1545.8 993.3h7.8v7.8h-7.8zM1558.6 991.7h7.8v7.8h-7.8zM1571.4 990.0h7.8v7.8h-7.8zM1584.2 988.3h7.8v7.8h-7.8zM1596.9 986.6h7.8v7.8h-7.8zM1609.7 984.9h7.8v7.8h-7.8zM1622.5 984.2h7.8v7.8h-7.8zM1635.3 984.2h7.8v7.8h-7.8zM1648.1 984.9h7.8v7.8h-7.8zM1660.8 985.9h7.8v7.8h-7.8zM1673.6 988.3h7.8v7.8h-7.8zM1686.4 980.8h7.8v7.8h-7.8zM1699.2 984.9h7.8v7.8h-7.8zM1712.0 992.3h7.8v7.8h-7.8zM1724.7 998.4h7.8v7.8h-7.8zM1737.5 1000.1h7.8v7.8h-7.8zM1750.3 984.2h7.8v7.8h-7.8zM1763.1 923.3h7.8v7.8h-7.8zM1775.9 918.2h7.8v7.8h-7.8zM1788.6 886.7h7.8v7.8h-7.8zM1801.4 890.1h7.8v7.8h-7.8zM1814.2 887.4h7.8v7.8h-7.8zM1827.0 881.6h7.8v7.8h-7.8zM1839.8 877.2h7.8v7.8h-7.8zM1852.5 863.7h7.8v7.8h-7.8zM1865.3 841.0h7.8v7.8h-7.8zM1878.1 815.6h7.8v7.8h-7.8z" fill="#060606" clip-path="url(#cf)"/>
<path d="M1434.7 513.0L1447.5 875.3L1460.3 901.8L1473.0 984.4L1485.8 998.3L1498.6 998.3L1511.4 1007.4L1524.2 1009.1L1536.9 998.3L1549.7 996.9L1562.5 998.3L1575.3 996.2L1588.1 993.5L1600.8 990.5L1613.6 987.8L1626.4 987.8L1639.2 988.8L1652.0 984.7L1664.7 982.7L1677.5 980.3L1690.3 978.6L1703.1 978.6L1715.9 982.0L1728.6 984.4L1741.4 988.1L1754.2 992.8L1767.0 1001.0L1779.8 1004.4L1792.5 941.4L1805.3 905.1L1818.1 868.6L1830.9 890.6L1843.7 875.3L1856.4 871.3" fill="none" stroke="#e9262d" stroke-width="2.8" stroke-linejoin="round" stroke-linecap="round" clip-path="url(#cf)"/>
<g fill="#e9262d" clip-path="url(#cf)"><circle cx="1434.7" cy="513.0" r="4.5"/><circle cx="1447.5" cy="875.3" r="4.5"/><circle cx="1460.3" cy="901.8" r="4.5"/><circle cx="1473.0" cy="984.4" r="4.5"/><circle cx="1485.8" cy="998.3" r="4.5"/><circle cx="1498.6" cy="998.3" r="4.5"/><circle cx="1511.4" cy="1007.4" r="4.5"/><circle cx="1524.2" cy="1009.1" r="4.5"/><circle cx="1536.9" cy="998.3" r="4.5"/><circle cx="1549.7" cy="996.9" r="4.5"/><circle cx="1562.5" cy="998.3" r="4.5"/><circle cx="1575.3" cy="996.2" r="4.5"/><circle cx="1588.1" cy="993.5" r="4.5"/><circle cx="1600.8" cy="990.5" r="4.5"/><circle cx="1613.6" cy="987.8" r="4.5"/><circle cx="1626.4" cy="987.8" r="4.5"/><circle cx="1639.2" cy="988.8" r="4.5"/><circle cx="1652.0" cy="984.7" r="4.5"/><circle cx="1664.7" cy="982.7" r="4.5"/><circle cx="1677.5" cy="980.3" r="4.5"/><circle cx="1690.3" cy="978.6" r="4.5"/><circle cx="1703.1" cy="978.6" r="4.5"/><circle cx="1715.9" cy="982.0" r="4.5"/><circle cx="1728.6" cy="984.4" r="4.5"/><circle cx="1741.4" cy="988.1" r="4.5"/><circle cx="1754.2" cy="992.8" r="4.5"/><circle cx="1767.0" cy="1001.0" r="4.5"/><circle cx="1779.8" cy="1004.4" r="4.5"/><circle cx="1792.5" cy="941.4" r="4.5"/><circle cx="1805.3" cy="905.1" r="4.5"/><circle cx="1818.1" cy="868.6" r="4.5"/><circle cx="1830.9" cy="890.6" r="4.5"/><circle cx="1843.7" cy="875.3" r="4.5"/><circle cx="1856.4" cy="871.3" r="4.5"/></g>
<rect x="1430.90" y="659.00" width="451.90" height="367.10" fill="none" stroke="#060606" stroke-width="4.3"/>
<path d="M1656.85 1024.25V1018.95M1543.88 1024.25V1022.45M1769.83 1024.25V1022.45" stroke="#060606" stroke-width="4.3" fill="none"/>
<path d="M1432.75 952.68H1438.05M1432.75 879.26H1438.05M1432.75 805.84H1438.05M1432.75 732.42H1438.05M1432.75 989.39H1434.55M1432.75 915.97H1434.55M1432.75 842.55H1434.55M1432.75 769.13H1434.55M1432.75 695.71H1434.55" stroke="#060606" stroke-width="4.3" fill="none"/>
<text class="ss" transform="translate(1412.25 1061.15) scale(0.9600 1)" font-size="35.0" stroke="#060606" stroke-width="0.5">35</text>
<text class="ss" transform="translate(1638.43 1061.15) scale(0.9600 1)" font-size="35.0" stroke="#060606" stroke-width="0.5">40</text>
<text class="ss" transform="translate(1864.43 1061.15) scale(0.9600 1)" font-size="35.0" stroke="#060606" stroke-width="0.5">45</text>
<text class="ss" transform="translate(1404.66 1037.80) scale(0.9350 1)" font-size="35.8" stroke="#060606" stroke-width="0.5">0</text>
<text class="ss" transform="translate(1404.77 964.38) scale(0.9350 1)" font-size="35.8" stroke="#060606" stroke-width="0.5">5</text>
<text class="ss" transform="translate(1386.02 890.96) scale(0.9350 1)" font-size="35.8" stroke="#060606" stroke-width="0.5">10</text>
<text class="ss" transform="translate(1386.13 817.54) scale(0.9350 1)" font-size="35.8" stroke="#060606" stroke-width="0.5">15</text>
<text class="ss" transform="translate(1386.02 744.12) scale(0.9350 1)" font-size="35.8" stroke="#060606" stroke-width="0.5">20</text>
<text class="ss" transform="translate(1386.13 670.70) scale(0.9350 1)" font-size="35.8" stroke="#060606" stroke-width="0.5">25</text>
<text class="ss b" transform="translate(1376.30 972.98) rotate(-90) scale(0.9570 1)" font-size="36.53" stroke="#060606" stroke-width="0.5">Axial Ratio (dB)</text>
<text class="ss b" transform="translate(1556.97 1098.40) scale(0.9774 1)" font-size="33.42" stroke="#060606" stroke-width="0.5">Freq (GHz)</text>
<text class="sf b" transform="translate(1638.18 1173.90) scale(0.9894 1)" font-size="42.5"><tspan dy="-1.0">(</tspan><tspan dy="1.6" font-size="44.3">f</tspan><tspan dy="-1.6">)</tspan></text>
<path d="M1640.5 698.9L1690.0 698.9" fill="none" stroke="#060606" stroke-width="2.8" stroke-linejoin="round" stroke-linecap="round"/>
<path d="M1661.2 695.0h7.8v7.8h-7.8z" fill="#060606"/>
<path d="M1640.5 743.2L1690.0 743.2" fill="none" stroke="#e9262d" stroke-width="2.8" stroke-linejoin="round" stroke-linecap="round"/>
<g fill="#e9262d"><circle cx="1665.1" cy="743.2" r="4.5"/></g>
<text class="ss" transform="translate(1697.06 707.30) scale(0.9860 1)" font-size="36.81" stroke="#060606" stroke-width="0.5">Simulated</text>
<text class="ss" transform="translate(1696.52 752.00) scale(1.0199 1)" font-size="35.71" stroke="#060606" stroke-width="0.5">Measured</text>
</svg>
</body>
</html>
